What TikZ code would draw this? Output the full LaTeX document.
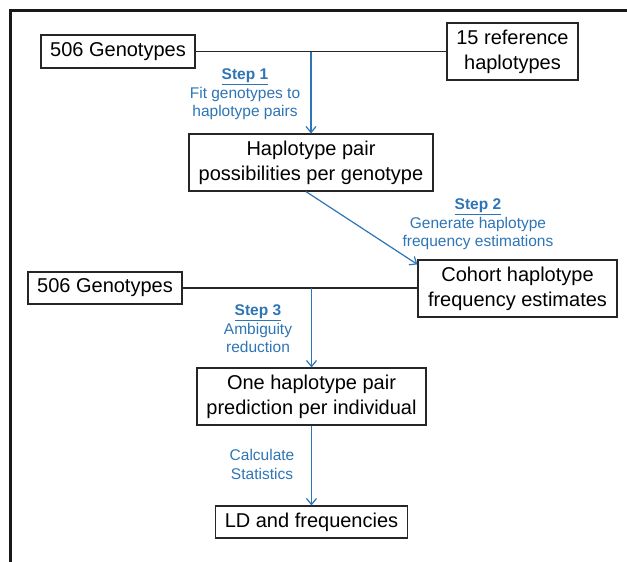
\documentclass[tikz,border=0pt]{standalone}
\usepackage{fontspec}
\setmainfont{Liberation Sans}
\usetikzlibrary{arrows.meta}
\definecolor{stepblue}{RGB}{46,117,182}
\begin{document}
\begin{tikzpicture}[x=1pt,y=1pt,
  box/.style={draw=black!85,line width=1.2pt,inner sep=0pt,align=center,
    font=\fontsize{20}{25}\selectfont,text=black},
  lbl/.style={align=center,text=stepblue,font=\fontsize{15.5}{18.5}\selectfont},
  conn/.style={draw=black!85,line width=1.2pt},
  arr/.style={draw=stepblue,line width=1.2pt,-{Straight Barb[length=6pt,width=10pt]}}]
\useasboundingbox (0,0) rectangle (627,-562);
\fill[white] (0,0) rectangle (627,-562);
% outer frame (left and top edges)
\draw[line width=3pt,black!90] (10,-562) -- (10,-10) -- (627,-10);
% boxes
\node[box,minimum width=154pt,minimum height=33pt] (g1) at (118,-51.5) {506 Genotypes};
\node[box,minimum width=131pt,minimum height=57pt] (ref) at (512.5,-51.5) {15 reference\\haplotypes};
\node[box,minimum width=244pt,minimum height=57pt] (hap) at (311,-162.5) {Haplotype pair\\possibilities per genotype};
\node[box,minimum width=199pt,minimum height=57pt] (coh) at (517.5,-288.5) {Cohort haplotype\\frequency estimates};
\node[box,minimum width=154pt,minimum height=32pt] (g2) at (105,-288) {506 Genotypes};
\node[box,minimum width=229pt,minimum height=57pt] (one) at (311.5,-396.5) {One haplotype pair\\prediction per individual};
\node[box,minimum width=192pt,minimum height=32pt] (ld) at (311.5,-522) {LD and frequencies};
% junctions
\coordinate (j1) at (311,-51.5);
\coordinate (j2) at (311.5,-288);
% connectors
\draw[conn] (g1.east) -- (ref.west);
\draw[arr] (j1) -- (hap.north);
\draw[arr] ([xshift=-5pt]hap.south) -- ([yshift=-5pt]coh.north west);
\draw[conn] (g2.east) -- (g2.east -| coh.west);
\draw[arr] (j2) -- (one.north);
\draw[arr] (one.south) -- (ld.north);
% labels
\node[lbl] (s1) at (245,-94.5) {\textbf{\underline{Step 1}}\\Fit genotypes to\\haplotype pairs};
\node[lbl] (s2) at (478,-224.5) {\textbf{\underline{Step 2}}\\Generate haplotype\\frequency estimations};
\node[lbl] (s3) at (258,-329) {\textbf{\underline{Step 3}}\\Ambiguity\\reduction};
\node[lbl] (s4) at (262,-464.5) {Calculate\\Statistics};
\end{tikzpicture}
\end{document}
